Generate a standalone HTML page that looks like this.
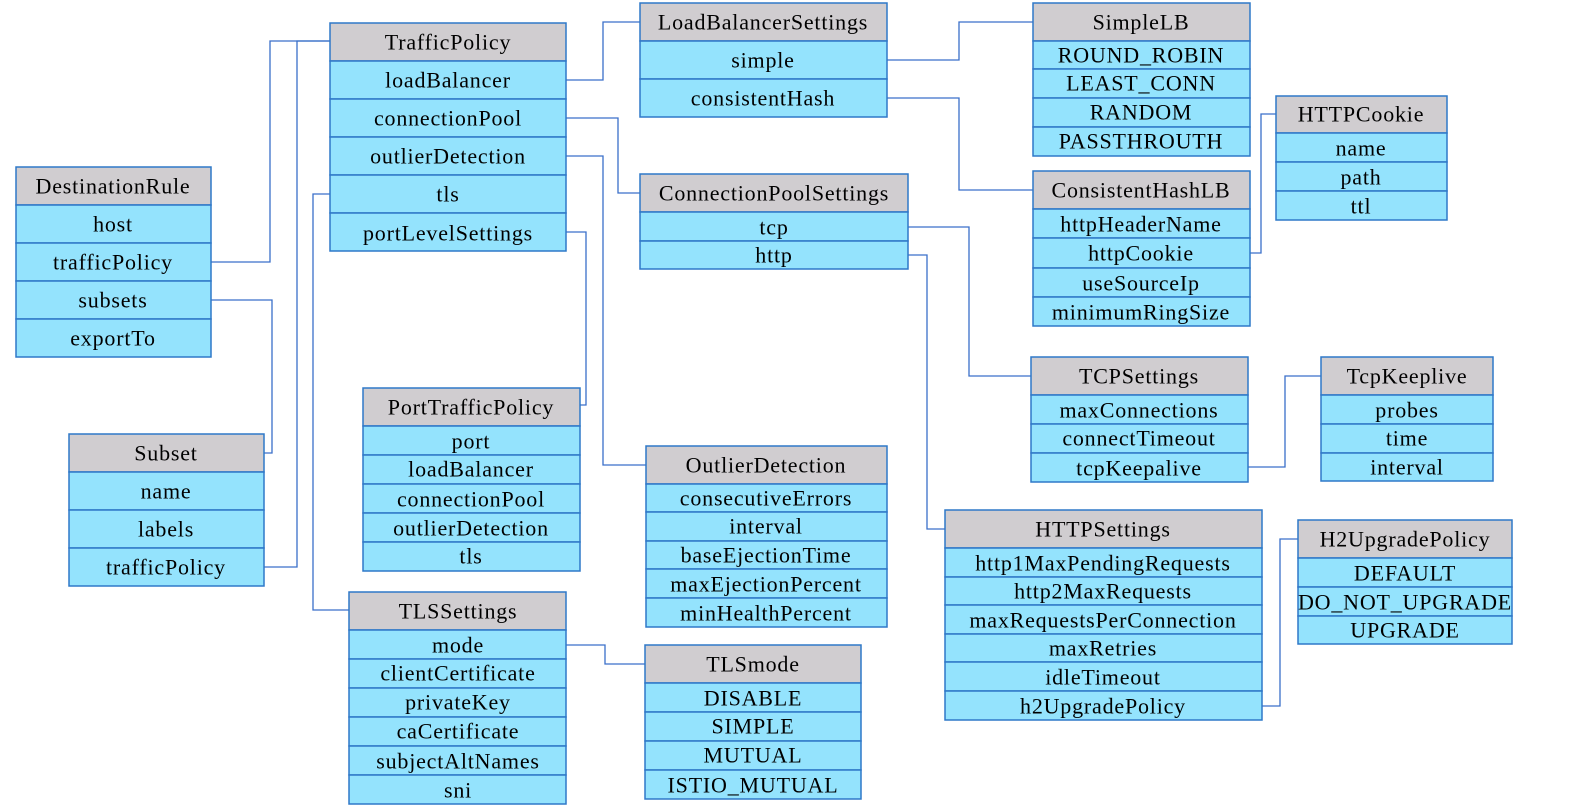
<!DOCTYPE html>
<html><head><meta charset="utf-8"><style>
html,body{margin:0;padding:0;background:#fff;}
svg{display:block}
text{font-family:"Liberation Serif",serif;font-size:22px;letter-spacing:0.8px;fill:#000;text-anchor:middle;dominant-baseline:central}
.h{fill:#d0cdd0;stroke:#2f78c8;stroke-width:1.5}
.r{fill:#94e3fd;stroke:#2f78c8;stroke-width:1.5}
.c{fill:none;stroke:#3a6fc9;stroke-width:1.3}
</style></head><body>
<svg width="1573" height="812" xmlns="http://www.w3.org/2000/svg">
<path class="c" d="M211 262H270V41H330"/>
<path class="c" d="M211 300H272V453H264"/>
<path class="c" d="M264 567H297V41H330"/>
<path class="c" d="M330 194H313V610H349"/>
<path class="c" d="M566 80H603V22H640"/>
<path class="c" d="M566 118H618V193H640"/>
<path class="c" d="M566 156H603V465H646"/>
<path class="c" d="M566 232H586V405H580"/>
<path class="c" d="M887 60H959V22H1033"/>
<path class="c" d="M887 98H959V190H1033"/>
<path class="c" d="M1250 253H1261V114H1276"/>
<path class="c" d="M908 227H969V376H1031"/>
<path class="c" d="M908 255H927V529H945"/>
<path class="c" d="M1248 467H1285V376H1321"/>
<path class="c" d="M1262 706H1280V539H1298"/>
<path class="c" d="M566 645H605V664H645"/>

<rect class="h" x="16" y="167" width="195" height="38"/><text x="113" y="186">DestinationRule</text>
<rect class="r" x="16" y="205" width="195" height="38"/><text x="113" y="224">host</text>
<rect class="r" x="16" y="243" width="195" height="38"/><text x="113" y="262">trafficPolicy</text>
<rect class="r" x="16" y="281" width="195" height="38"/><text x="113" y="300">subsets</text>
<rect class="r" x="16" y="319" width="195" height="38"/><text x="113" y="338">exportTo</text>

<rect class="h" x="69" y="434" width="195" height="38"/><text x="166" y="453">Subset</text>
<rect class="r" x="69" y="472" width="195" height="38"/><text x="166" y="491">name</text>
<rect class="r" x="69" y="510" width="195" height="38"/><text x="166" y="529">labels</text>
<rect class="r" x="69" y="548" width="195" height="38"/><text x="166" y="567">trafficPolicy</text>

<rect class="h" x="330" y="23" width="236" height="38"/><text x="448" y="42">TrafficPolicy</text>
<rect class="r" x="330" y="61" width="236" height="38"/><text x="448" y="80">loadBalancer</text>
<rect class="r" x="330" y="99" width="236" height="38"/><text x="448" y="118">connectionPool</text>
<rect class="r" x="330" y="137" width="236" height="38"/><text x="448" y="156">outlierDetection</text>
<rect class="r" x="330" y="175" width="236" height="38"/><text x="448" y="194">tls</text>
<rect class="r" x="330" y="213" width="236" height="38"/><text x="448" y="233">portLevelSettings</text>

<rect class="h" x="640" y="3" width="247" height="38"/><text x="763" y="22">LoadBalancerSettings</text>
<rect class="r" x="640" y="41" width="247" height="38"/><text x="763" y="60">simple</text>
<rect class="r" x="640" y="79" width="247" height="38"/><text x="763" y="98">consistentHash</text>

<rect class="h" x="1033" y="3" width="217" height="38"/><text x="1141" y="22">SimpleLB</text>
<rect class="r" x="1033" y="41" width="217" height="28"/><text x="1141" y="55">ROUND_ROBIN</text>
<rect class="r" x="1033" y="69" width="217" height="29"/><text x="1141" y="83">LEAST_CONN</text>
<rect class="r" x="1033" y="98" width="217" height="29"/><text x="1141" y="112">RANDOM</text>
<rect class="r" x="1033" y="127" width="217" height="29"/><text x="1141" y="141">PASSTHROUTH</text>

<rect class="h" x="1276" y="96" width="171" height="37"/><text x="1361" y="114">HTTPCookie</text>
<rect class="r" x="1276" y="133" width="171" height="29"/><text x="1361" y="148">name</text>
<rect class="r" x="1276" y="162" width="171" height="29"/><text x="1361" y="177">path</text>
<rect class="r" x="1276" y="191" width="171" height="29"/><text x="1361" y="206">ttl</text>

<rect class="h" x="640" y="174" width="268" height="38"/><text x="774" y="193">ConnectionPoolSettings</text>
<rect class="r" x="640" y="212" width="268" height="29"/><text x="774" y="227">tcp</text>
<rect class="r" x="640" y="241" width="268" height="28"/><text x="774" y="255">http</text>

<rect class="h" x="1033" y="171" width="217" height="38"/><text x="1141" y="190">ConsistentHashLB</text>
<rect class="r" x="1033" y="209" width="217" height="29"/><text x="1141" y="224">httpHeaderName</text>
<rect class="r" x="1033" y="238" width="217" height="30"/><text x="1141" y="253">httpCookie</text>
<rect class="r" x="1033" y="268" width="217" height="29"/><text x="1141" y="283">useSourceIp</text>
<rect class="r" x="1033" y="297" width="217" height="29"/><text x="1141" y="312">minimumRingSize</text>

<rect class="h" x="1031" y="357" width="217" height="38"/><text x="1139" y="376">TCPSettings</text>
<rect class="r" x="1031" y="395" width="217" height="29"/><text x="1139" y="410">maxConnections</text>
<rect class="r" x="1031" y="424" width="217" height="29"/><text x="1139" y="438">connectTimeout</text>
<rect class="r" x="1031" y="453" width="217" height="29"/><text x="1139" y="468">tcpKeepalive</text>

<rect class="h" x="1321" y="357" width="172" height="38"/><text x="1407" y="376">TcpKeeplive</text>
<rect class="r" x="1321" y="395" width="172" height="29"/><text x="1407" y="410">probes</text>
<rect class="r" x="1321" y="424" width="172" height="29"/><text x="1407" y="438">time</text>
<rect class="r" x="1321" y="453" width="172" height="28"/><text x="1407" y="467">interval</text>

<rect class="h" x="363" y="388" width="217" height="38"/><text x="471" y="407">PortTrafficPolicy</text>
<rect class="r" x="363" y="426" width="217" height="29"/><text x="471" y="441">port</text>
<rect class="r" x="363" y="455" width="217" height="29"/><text x="471" y="469">loadBalancer</text>
<rect class="r" x="363" y="484" width="217" height="29"/><text x="471" y="499">connectionPool</text>
<rect class="r" x="363" y="513" width="217" height="29"/><text x="471" y="528">outlierDetection</text>
<rect class="r" x="363" y="542" width="217" height="29"/><text x="471" y="556">tls</text>

<rect class="h" x="646" y="446" width="241" height="38"/><text x="766" y="465">OutlierDetection</text>
<rect class="r" x="646" y="484" width="241" height="28"/><text x="766" y="498">consecutiveErrors</text>
<rect class="r" x="646" y="512" width="241" height="29"/><text x="766" y="526">interval</text>
<rect class="r" x="646" y="541" width="241" height="28"/><text x="766" y="555">baseEjectionTime</text>
<rect class="r" x="646" y="569" width="241" height="29"/><text x="766" y="584">maxEjectionPercent</text>
<rect class="r" x="646" y="598" width="241" height="29"/><text x="766" y="613">minHealthPercent</text>

<rect class="h" x="945" y="510" width="317" height="38"/><text x="1103" y="529">HTTPSettings</text>
<rect class="r" x="945" y="548" width="317" height="29"/><text x="1103" y="563">http1MaxPendingRequests</text>
<rect class="r" x="945" y="577" width="317" height="28"/><text x="1103" y="591">http2MaxRequests</text>
<rect class="r" x="945" y="605" width="317" height="29"/><text x="1103" y="620">maxRequestsPerConnection</text>
<rect class="r" x="945" y="634" width="317" height="28"/><text x="1103" y="648">maxRetries</text>
<rect class="r" x="945" y="662" width="317" height="29"/><text x="1103" y="677">idleTimeout</text>
<rect class="r" x="945" y="691" width="317" height="29"/><text x="1103" y="706">h2UpgradePolicy</text>

<rect class="h" x="1298" y="520" width="214" height="38"/><text x="1405" y="539">H2UpgradePolicy</text>
<rect class="r" x="1298" y="558" width="214" height="29"/><text x="1405" y="573">DEFAULT</text>
<rect class="r" x="1298" y="587" width="214" height="29"/><text x="1405" y="602">DO_NOT_UPGRADE</text>
<rect class="r" x="1298" y="616" width="214" height="28"/><text x="1405" y="630">UPGRADE</text>

<rect class="h" x="349" y="592" width="217" height="38"/><text x="458" y="611">TLSSettings</text>
<rect class="r" x="349" y="630" width="217" height="29"/><text x="458" y="645">mode</text>
<rect class="r" x="349" y="659" width="217" height="29"/><text x="458" y="673">clientCertificate</text>
<rect class="r" x="349" y="688" width="217" height="29"/><text x="458" y="702">privateKey</text>
<rect class="r" x="349" y="717" width="217" height="29"/><text x="458" y="731">caCertificate</text>
<rect class="r" x="349" y="746" width="217" height="29"/><text x="458" y="761">subjectAltNames</text>
<rect class="r" x="349" y="775" width="217" height="29"/><text x="458" y="790">sni</text>

<rect class="h" x="645" y="645" width="216" height="38"/><text x="753" y="664">TLSmode</text>
<rect class="r" x="645" y="683" width="216" height="29"/><text x="753" y="698">DISABLE</text>
<rect class="r" x="645" y="712" width="216" height="29"/><text x="753" y="726">SIMPLE</text>
<rect class="r" x="645" y="741" width="216" height="29"/><text x="753" y="755">MUTUAL</text>
<rect class="r" x="645" y="770" width="216" height="29"/><text x="753" y="785">ISTIO_MUTUAL</text>
</svg>
</body></html>
